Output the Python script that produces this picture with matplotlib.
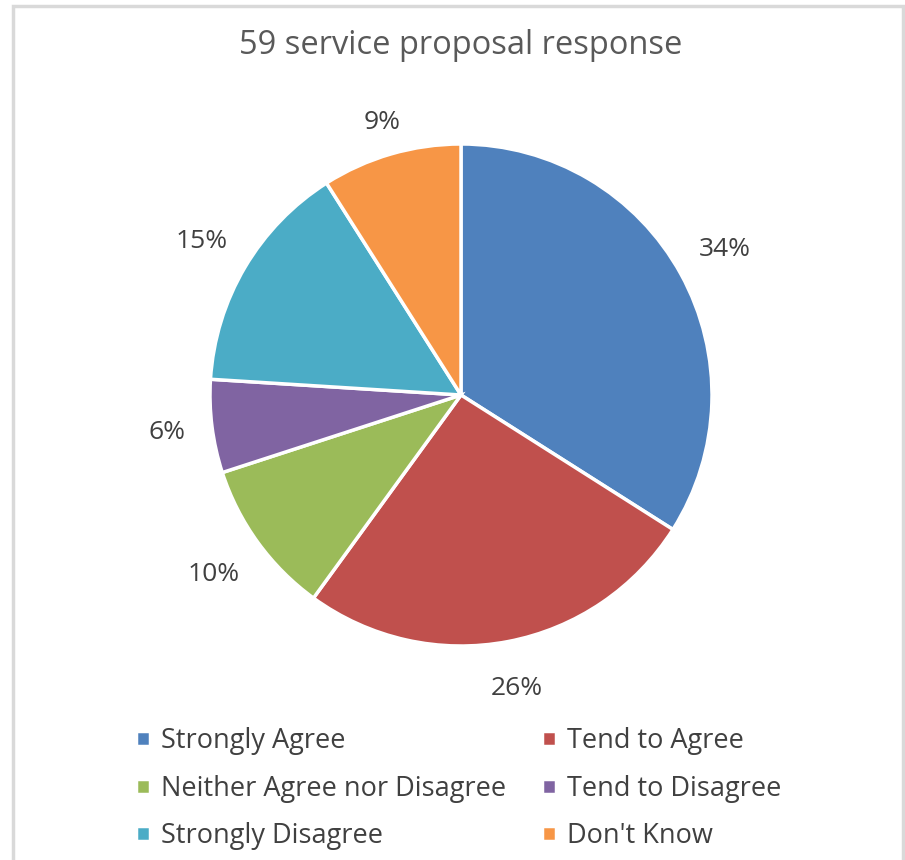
import numpy as np
import matplotlib.pyplot as plt
from matplotlib.patches import Rectangle

plt.rcParams['font.family'] = ['Open Sans', 'DejaVu Sans']

# survey answers for the 59 service proposal
categories = ['Strongly Agree', 'Tend to Agree', 'Neither Agree nor Disagree',
              'Tend to Disagree', 'Strongly Disagree', "Don't Know"]
shares = [34, 26, 10, 6, 15, 9]
colors = ['#4F81BD', '#C0504D', '#9BBB59', '#8064A2', '#4BACC6', '#F79646']
# label distance from centre, in pie radii
label_dist = [1.2, 1.19, 1.22, 1.18, 1.2, 1.13]

W, H = 905, 860
fig = plt.figure(figsize=(W / 100, H / 100), dpi=100)
fig.patch.set_facecolor('white')

# light grey chart-area frame
fig.patches.append(Rectangle((13 / W, -0.05), (903 - 13) / W, (H - 6) / H + 0.05,
                             transform=fig.transFigure, fill=False,
                             edgecolor='#D9D9D9', linewidth=2.5))

# pie: centre (461, 395), radius ~251 px
r = 251
cx, cy = 461, 395
ax = fig.add_axes([(cx - r) / W, (H - cy - r) / H, 2 * r / W, 2 * r / H])
wedges, texts, autotexts = ax.pie(
    shares, colors=colors, startangle=90, counterclock=False,
    autopct='%d%%', pctdistance=1.2, radius=1,
    wedgeprops=dict(edgecolor='white', linewidth=2.5),
    textprops=dict(fontsize=19, color='#404040'))
for w, t, d in zip(wedges, autotexts, label_dist):
    a = np.radians((w.theta1 + w.theta2) / 2)
    t.set_position((d * np.cos(a), d * np.sin(a)))
ax.set_xlim(-1, 1)
ax.set_ylim(-1, 1)
ax.set_aspect('equal')

fig.text(461 / W, 1 - 45 / H, '59 service proposal response',
         ha='center', va='center', fontsize=23.5, color='#595959')

# legend fills row by row: reorder for matplotlib's column-first layout
order = [0, 2, 4, 1, 3, 5]
leg = fig.legend([wedges[i] for i in order], [categories[i] for i in order],
                 loc='upper left', bbox_to_anchor=(112 / W, 1 - 703 / H), ncol=2,
                 frameon=False, fontsize=19.5, labelcolor='#404040',
                 handlelength=0.5, handleheight=0.5, handletextpad=0.4,
                 columnspacing=1.35, labelspacing=0.72)

fig.savefig('out.png', dpi=100)
